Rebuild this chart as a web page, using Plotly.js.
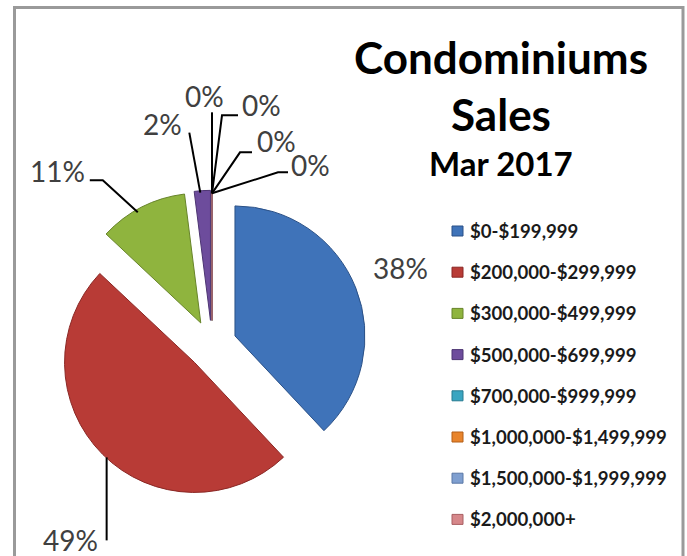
<!DOCTYPE html>
<html><head><meta charset="utf-8">
<script src="https://cdn.plot.ly/plotly-3.0.1.min.js"></script>
<style>html,body{margin:0;padding:0;background:#fff;} #chart{width:687px;height:556px;}</style>
</head><body><div id="chart"></div>
<script>
// ---- data ----
const categories = ["$0-$199,999","$200,000-$299,999","$300,000-$499,999","$500,000-$699,999","$700,000-$999,999","$1,000,000-$1,499,999","$1,500,000-$1,999,999","$2,000,000+"];
const shares = [38, 49, 11, 2, 0, 0, 0, 0];
const titleText = "Condominiums<br>Sales";
const subtitleText = "Mar 2017";

// ---- styles ----
const sliceColors = ["#3f73b9","#b83b36","#8fb43e","#6d4c9c","#3aa5c1","#e8842c","#7f9fd0","#d6878a"];
const sliceEdges  = ["#2b5187","#8a2724","#67842a","#4d3572","#267a90","#b45f17","#5b78a6","#a85f62"];

const W = 687, H = 556;
const pull = 0.19;
const dom = {x:[0.0834, 0.5338], y:[0.1013, 0.6577]};
// pie geometry, derived the same way Plotly sizes a pie in its domain
const boxW = W*(dom.x[1]-dom.x[0]), boxH = H*(dom.y[1]-dom.y[0]);
const R  = Math.min(boxW, boxH)/(2+2*pull);
const CX = W*(dom.x[0]+dom.x[1])/2;
const CY = H*(1-dom.y[0]) - boxH/2;

// label placement (pixel offsets from each slice's outer mid point)
const labelLayout = [
  {line:null, tx:45, ty:-20, anchor:'center'},
  {line:[[4,3],[4,86]], tx:-3, ty:86, anchor:'right'},
  {line:[[-4,5],[-39,-27],[-52,-27]], tx:-55, ty:-36, anchor:'right'},
  {line:[[-2,2],[-13,-58]], tx:-18, ty:-67, anchor:'right'},
  {line:[[0,3],[0,-78]], tx:-8, ty:-94, anchor:'center'},
  {line:[[0,3],[10,-75],[26,-75]], tx:28, ty:-85, anchor:'left'},
  {line:[[0,3],[28,-38],[40,-38]], tx:43, ty:-49, anchor:'left'},
  {line:[[0,3],[66,-18],[76,-18]], tx:77, ty:-25, anchor:'left'}
];
const legendLayout = {sqX:452, sqW:11, sqH:10, textX:468, y0:231, dy:41.2};

const px = x => x/W, py = y => 1 - y/H;
const total = shares.reduce((a,b)=>a+b,0);

const shapes = [];
const annotations = [];

// frame
shapes.push({type:'rect', xref:'paper', yref:'paper', x0:px(14.5), x1:px(683), y0:-0.05, y1:py(7.5),
  line:{color:'#9a9a9a', width:3}, fillcolor:'rgba(0,0,0,0)', layer:'below'});

// data labels and leader lines
let cum = 0;
shares.forEach((v,i)=>{
  const mid = (cum + v/2)/total*2*Math.PI; cum += v;
  const ax = CX + R*(1+pull)*Math.sin(mid);
  const ay = CY - R*(1+pull)*Math.cos(mid);
  const L = labelLayout[i];
  if (L.line) {
    const d = L.line.map((p,k)=>(k?'L':'M')+px(ax+p[0]).toFixed(5)+','+py(ay+p[1]).toFixed(5)).join(' ');
    shapes.push({type:'path', xref:'paper', yref:'paper', path:d, line:{color:'#000', width:2}});
  }
  annotations.push({xref:'paper', yref:'paper', x:px(ax+L.tx), y:py(ay+L.ty), xanchor:L.anchor, yanchor:'middle',
    showarrow:false, text:Math.round(v/total*100)+'%', font:{family:'Lato', size:28, color:'#404040'}});
});

// legend
categories.forEach((c,i)=>{
  const yc = legendLayout.y0 + i*legendLayout.dy;
  shapes.push({type:'rect', xref:'paper', yref:'paper',
    x0:px(legendLayout.sqX), x1:px(legendLayout.sqX+legendLayout.sqW),
    y0:py(yc+legendLayout.sqH/2), y1:py(yc-legendLayout.sqH/2),
    fillcolor:sliceColors[i], line:{color:sliceEdges[i], width:1}});
  annotations.push({xref:'paper', yref:'paper', x:px(legendLayout.textX), y:py(yc), xanchor:'left', yanchor:'middle',
    showarrow:false, text:c, font:{family:'Lato', size:18.6, color:'#1a1a1a', weight:700}});
});

// subtitle
annotations.push({xref:'paper', yref:'paper', x:px(501), y:py(163), xanchor:'center', yanchor:'middle',
  showarrow:false, text:subtitleText, font:{family:'Lato', size:33, color:'#000', weight:700}});

const trace = {
  type:'pie', labels:categories, values:shares, sort:false, direction:'clockwise', rotation:0,
  pull:shares.map(()=>pull), domain:dom,
  marker:{colors:sliceColors, line:{color:sliceEdges, width:1}},
  textinfo:'none', hoverinfo:'none', showlegend:false
};

const layout = {
  width:W, height:H, margin:{l:0,r:0,t:0,b:0}, paper_bgcolor:'#fff',
  showlegend:false,
  title:{text:titleText, font:{family:'Lato', size:44, color:'#000', weight:700},
    x:px(501), xanchor:'center', xref:'paper', y:py(74), yanchor:'top', yref:'container'},
  shapes:shapes, annotations:annotations
};
Plotly.newPlot('chart', [trace], layout, {displayModeBar:false, staticPlot:true});
</script></body></html>
